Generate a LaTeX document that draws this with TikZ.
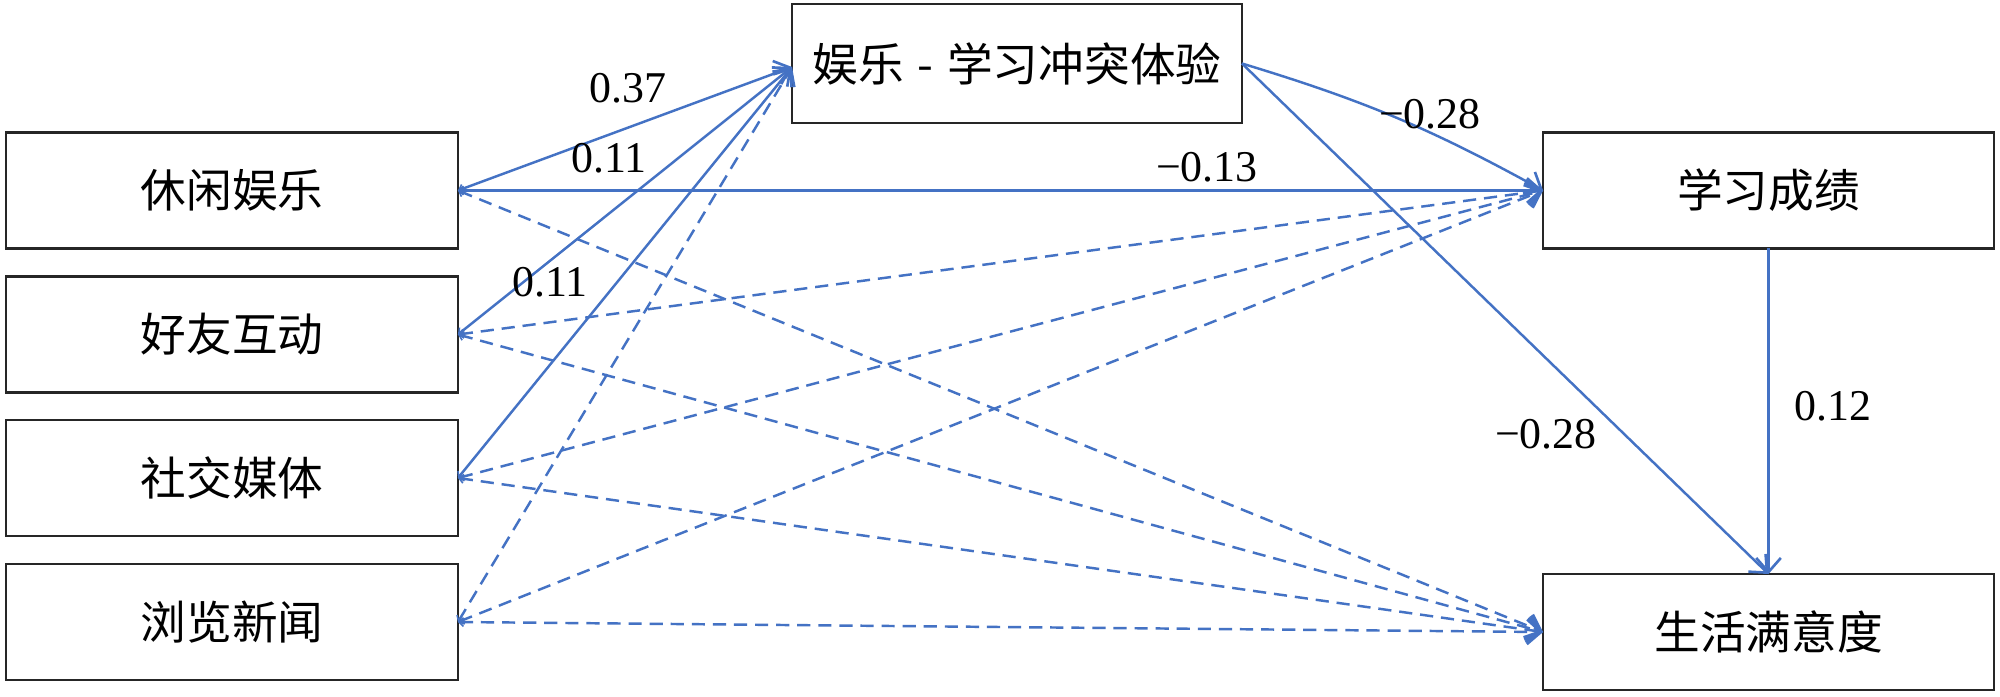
\documentclass[tikz,border=0pt]{standalone}
\usepackage{fontspec}
\setmainfont{Liberation Serif}
\newfontfamily\cjk{Noto Sans CJK SC}
\usetikzlibrary{arrows.meta}
\definecolor{lineblue}{RGB}{68,114,196}
\begin{document}
\begin{tikzpicture}[x=0.02cm,y=-0.02cm,
  box/.style={draw=black!85,line width=1.4pt,fill=white,inner sep=0pt,outer sep=0pt,
    minimum width=9.04cm,minimum height=2.32cm,font=\cjk\fontsize{26}{30}\selectfont},
  conn/.style={draw=lineblue,line width=1.4pt,
    {Straight Barb[length=2.5pt,width=5pt,line width=0.9pt]}-{Straight Barb[length=8pt,width=14pt,line width=1.5pt]}},
  dconn/.style={conn,dash pattern=on 7.5pt off 4.5pt},
  lab/.style={font=\fontsize{25}{28}\selectfont,inner sep=0pt}]
\useasboundingbox (0,0) rectangle (2000,696);
\fill[white] (0,0) rectangle (2000,696);
% nodes
\node[box] (L1) at (232,190.5) {休闲娱乐};
\node[box] (L2) at (232,334.5) {好友互动};
\node[box] (L3) at (232,478) {社交媒体};
\node[box] (L4) at (232,622) {浏览新闻};
\node[box,minimum width=9.0cm,minimum height=2.38cm] (M) at (1017,63.5) {娱乐\hspace{0.3em}-\hspace{0.3em}学习冲突体验};
\node[box,minimum width=9.02cm] (R1) at (1768.5,190.5) {学习成绩};
\node[box,minimum width=9.02cm] (R2) at (1768.5,632) {生活满意度};
\coordinate (Min) at ([yshift=-0.07cm]M.west);
% dashed connectors
\draw[dconn] (L1.east) -- (R2.west);
\draw[dconn] (L2.east) -- (R1.west);
\draw[dconn] (L2.east) -- (R2.west);
\draw[dconn] (L3.east) -- (R1.west);
\draw[dconn] (L3.east) -- (R2.west);
\draw[dconn] (L4.east) -- (Min);
\draw[dconn] (L4.east) -- (R1.west);
\draw[dconn] (L4.east) -- (R2.west);
% solid connectors
\draw[conn] (L1.east) -- (Min);
\draw[conn] (L2.east) -- (Min);
\draw[conn] (L3.east) -- (Min);
\draw[conn] (L1.east) -- (R1.west);
\draw[conn,-{Straight Barb[length=8pt,width=14pt,line width=1.5pt]}] (M.east) to[bend left=6] (R1.west);
\draw[conn,-{Straight Barb[length=8pt,width=14pt,line width=1.5pt]}] (M.east) -- (R2.north);
\draw[conn,-{Straight Barb[length=8pt,width=14pt,line width=1.5pt]}] (R1.south) -- (R2.north);
% labels
\node[lab] (a1) at (628,88) {0.37};
\node[lab] (a2) at (609,158) {0.11};
\node[lab] (a3) at (550,282) {0.11};
\node[lab] (b1) at (1207,167) {−0.13};
\node[lab] (c1) at (1430,114) {−0.28};
\node[lab] (c2) at (1546,434) {−0.28};
\node[lab] (d1) at (1833,406) {0.12};
\end{tikzpicture}
\end{document}
